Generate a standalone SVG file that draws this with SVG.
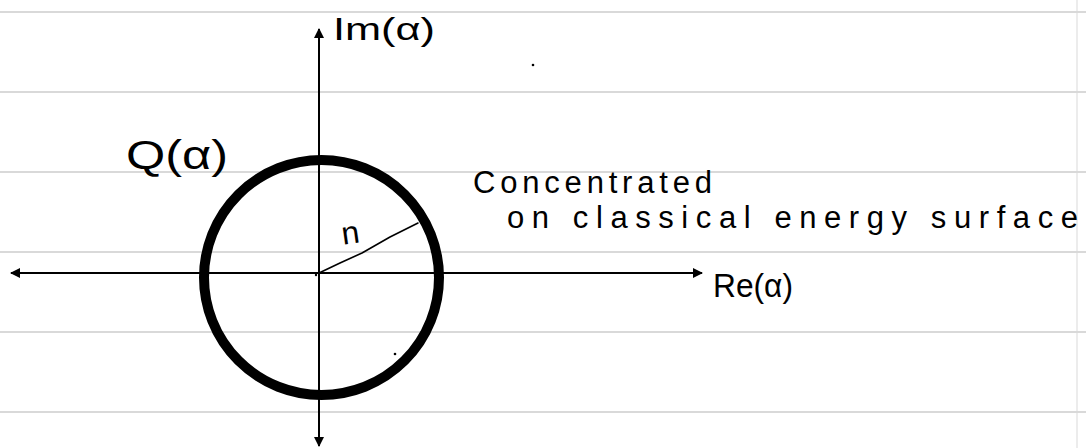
<svg xmlns="http://www.w3.org/2000/svg" width="1086" height="448" viewBox="0 0 1086 448">
  <style>
    .rule { stroke: #d9d9d9; stroke-width: 2; fill: none; }
    .axis { stroke: #000; stroke-width: 2; fill: none; }
    .hand { font-family: "Liberation Sans", "DejaVu Sans", sans-serif; fill: #000; }
    .thin { stroke: #000; stroke-width: 1.6; fill: none; stroke-linecap: round; stroke-linejoin: round; }
  </style>
  <defs>
    <marker id="arrow" viewBox="0 0 10 10" refX="9" refY="5" markerWidth="5" markerHeight="5" orient="auto-start-reverse" markerUnits="strokeWidth">
      <path d="M0,0 L10,5 L0,10 Z" fill="#000"/>
    </marker>
  </defs>
  <rect width="1086" height="448" fill="#fff"/>
  <g id="paper">
    <line class="rule" x1="0" y1="12" x2="1086" y2="12"/>
    <line class="rule" x1="0" y1="92" x2="1086" y2="92"/>
    <line class="rule" x1="0" y1="172" x2="1086" y2="172"/>
    <line class="rule" x1="0" y1="252" x2="1086" y2="252"/>
    <line class="rule" x1="0" y1="332" x2="1086" y2="332"/>
    <line class="rule" x1="0" y1="412" x2="1086" y2="412"/>
    <line x1="1077" y1="0" x2="1077" y2="448" stroke="#d9d9d9" stroke-width="1"/>
  </g>
  <g id="connectors">
    <line class="axis" x1="319" y1="446" x2="319" y2="29" marker-end="url(#arrow)" marker-start="url(#arrow)"/>
    <line class="axis" x1="11" y1="273" x2="702" y2="273" marker-end="url(#arrow)" marker-start="url(#arrow)"/>
    <polyline class="thin" points="319,273 340,263 362,253 390,237 418,223"/>
  </g>
  <g id="circle">
    <circle cx="321.5" cy="277.5" r="117.5" fill="none" stroke="#000" stroke-width="10"/>
  </g>
  <g id="dots">
    <circle cx="533" cy="65" r="1.3" fill="#000"/>
    <circle cx="395" cy="354" r="1.3" fill="#000"/>
    <circle cx="316" cy="275" r="1.2" fill="#000"/>
  </g>
  <g id="label-im">
    <text class="hand" x="333" y="40" font-size="32" textLength="102" lengthAdjust="spacingAndGlyphs">Im(α)</text>
  </g>
  <g id="label-q">
    <text class="hand" x="126" y="169" font-size="40" textLength="102" lengthAdjust="spacingAndGlyphs">Q(α)</text>
  </g>
  <g id="label-n">
    <text class="hand" x="342" y="243" font-size="32" transform="rotate(-8 355 236)">n</text>
  </g>
  <g id="label-re">
    <text class="hand" x="713" y="297" font-size="34" textLength="80" lengthAdjust="spacingAndGlyphs">Re(α)</text>
  </g>
  <g id="label-concentrated">
    <text class="hand" x="473" y="193" font-size="31" textLength="239" lengthAdjust="spacing">Concentrated</text>
    <text class="hand" x="507" y="228" font-size="31" textLength="571" lengthAdjust="spacing">on classical energy surface</text>
  </g>
</svg>
